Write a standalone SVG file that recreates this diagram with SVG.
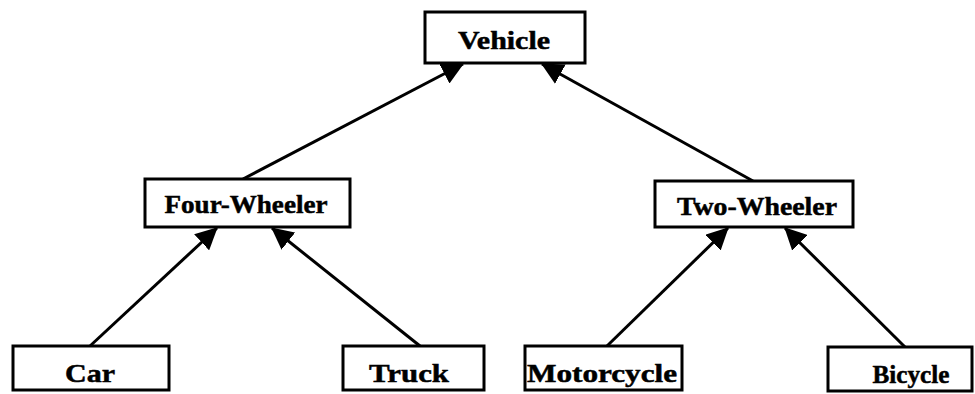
<svg xmlns="http://www.w3.org/2000/svg" width="975" height="394" viewBox="0 0 975 394">
  <style>
    .box { fill: #ffffff; stroke: #000000; stroke-width: 3; }
    .label { font-family: "Liberation Serif", "Times New Roman", serif; font-weight: bold; font-size: 26px; fill: #000000; stroke: #000000; stroke-width: 0.5; text-anchor: middle; }
    .edge { stroke: #000000; stroke-width: 3; fill: none; marker-end: url(#arrow); }
  </style>
  <defs>
    <marker id="arrow" markerUnits="userSpaceOnUse" markerWidth="24" markerHeight="22" refX="21" refY="11" orient="auto">
      <path d="M0,0 L22,11 L0,22 Z" fill="#000000"/>
    </marker>
  </defs>
  <rect width="975" height="394" fill="#ffffff"/>

  <!-- inheritance connectors: child top edge to parent bottom edge -->
  <g id="connectors">
    <line class="edge" x1="243" y1="179" x2="463" y2="64"/>
    <line class="edge" x1="753" y1="181" x2="542" y2="64"/>
    <line class="edge" x1="90" y1="346" x2="217" y2="228"/>
    <line class="edge" x1="420" y1="346" x2="272" y2="228"/>
    <line class="edge" x1="607" y1="346" x2="728" y2="228"/>
    <line class="edge" x1="905" y1="347" x2="785" y2="228"/>
  </g>

  <g id="vehicle">
    <rect class="box" x="425" y="12" width="160" height="51"/>
    <text class="label" x="504" y="49" textLength="92" lengthAdjust="spacingAndGlyphs">Vehicle</text>
  </g>
  <g id="four-wheeler">
    <rect class="box" x="145" y="179" width="205" height="48"/>
    <text class="label" x="246" y="213" textLength="163" lengthAdjust="spacingAndGlyphs">Four-Wheeler</text>
  </g>
  <g id="two-wheeler">
    <rect class="box" x="655" y="181" width="198" height="46"/>
    <text class="label" x="757" y="215" textLength="160" lengthAdjust="spacingAndGlyphs">Two-Wheeler</text>
  </g>
  <g id="car">
    <rect class="box" x="13" y="346" width="156" height="44"/>
    <text class="label" x="90" y="382" textLength="50" lengthAdjust="spacingAndGlyphs">Car</text>
  </g>
  <g id="truck">
    <rect class="box" x="343" y="346" width="141" height="44"/>
    <text class="label" x="409" y="382" textLength="80" lengthAdjust="spacingAndGlyphs">Truck</text>
  </g>
  <g id="motorcycle">
    <rect class="box" x="525" y="346" width="157" height="44"/>
    <text class="label" x="602" y="382" textLength="150" lengthAdjust="spacingAndGlyphs">Motorcycle</text>
  </g>
  <g id="bicycle">
    <rect class="box" x="828" y="347" width="144" height="44"/>
    <text class="label" x="911" y="383" textLength="77" lengthAdjust="spacingAndGlyphs">Bicycle</text>
  </g>
</svg>
